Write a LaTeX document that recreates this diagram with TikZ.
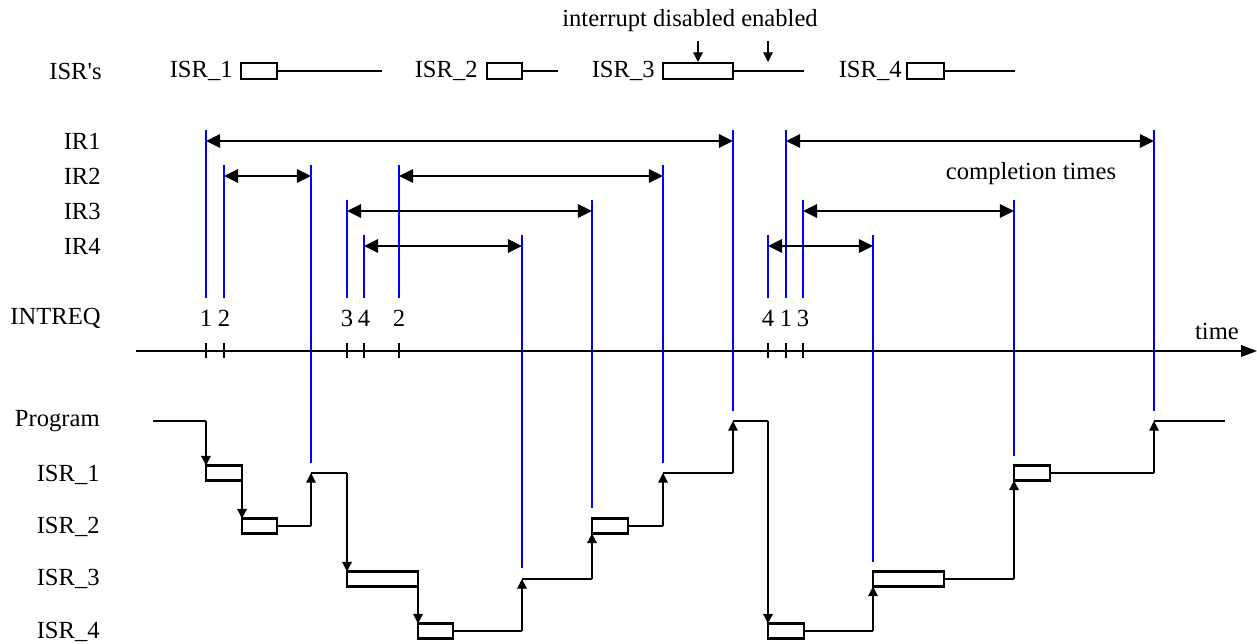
\documentclass[tikz,border=0pt]{standalone}
\usepackage{fontspec}
\setmainfont{Liberation Serif}
\usetikzlibrary{arrows.meta}

\tikzset{
  lbl/.style={inner sep=0pt, font=\fontsize{14}{16}\selectfont},
  rowlbl/.style={lbl, anchor=east},
  level/.style={line width=1.5pt},
  runbox/.style={draw, line width=1.5pt, fill=white},
  hop/.style={-{Triangle[length=5.5pt,width=5.5pt]}, line width=0.7pt},
  span/.style={{Triangle[length=8pt,width=7.5pt]}-{Triangle[length=8pt,width=7.5pt]}, line width=1.3pt},
  req/.style={blue, line width=0.6pt},
  tick/.style={line width=1pt}
}

\begin{document}
\begin{tikzpicture}[x=0.02cm,y=-0.02cm]
  \useasboundingbox (0,0) rectangle (1257,644);

  % etichette a sinistra
  \node[rowlbl] (isrs) at (102,71) {ISR\textquotesingle s};
  \node[rowlbl] (ir1) at (101,141) {IR1};
  \node[rowlbl] (ir2) at (101,176) {IR2};
  \node[rowlbl] (ir3) at (101,211) {IR3};
  \node[rowlbl] (ir4) at (101,246) {IR4};
  \node[rowlbl] (intreq) at (101,318) {INTREQ};
  \node[rowlbl] (prog) at (100,421) {Program};
  \node[rowlbl] (lv1) at (100,475) {ISR\_1};
  \node[rowlbl] (lv2) at (100,527) {ISR\_2};
  \node[rowlbl] (lv3) at (100,579) {ISR\_3};
  \node[rowlbl] (lv4) at (100,632) {ISR\_4};

  % riga delle ISR
  \foreach \n/\t/\a/\b/\c in {1/233/241/277/382, 2/478/487/522/558,
                             3/655/663/733/804, 4/902/907/944/1015}{
    \node[rowlbl] (top\n) at (\t,71) {ISR\_\n};
    \draw[level] (\b,71) -- (\c,71);
    \draw[runbox] (\a,63) rectangle (\b,79);
  }
  \node[lbl, anchor=base] (note) at (690,27) {interrupt disabled enabled};
  \draw[hop] (698,41) -- (698,62);
  \draw[hop] (768,41) -- (768,62);

  % linee di richiesta e completamento
  \foreach \x/\ya/\yb in {206/130/298, 224/165/298, 311/165/463, 347/200/298,
                          364/235/298, 399/165/298, 522/235/568, 592/200/508,
                          663/165/463, 733/130/411, 768/235/298, 786/130/298,
                          803/200/298, 873/235/562, 1014/200/456, 1154/130/411}
    \draw[req] (\x,\ya) -- (\x,\yb);

  % intervalli di servizio
  \foreach \y/\xa/\xb in {141/206/733, 141/786/1154, 176/224/311, 176/399/663,
                          211/347/592, 211/803/1014, 246/364/522, 246/768/873}
    \draw[span] (\xa,\y) -- (\xb,\y);
  \node[lbl] (compl) at (1031,174) {completion times};

  % asse dei tempi
  \draw[line width=1pt, -{Triangle[length=9pt,width=6.5pt]}] (136,351) -- (1257,351);
  \node[lbl] (time) at (1217,331) {time};
  \foreach \x/\k in {206/1, 224/2, 347/3, 364/4, 399/2, 768/4, 786/1, 803/3}{
    \draw[tick] (\x,343) -- (\x,358);
    \node[lbl] at (\x,318) {\k};
  }

  % esecuzione del programma
  \draw[level] (153,421) -- (206,421);
  \draw[hop] (206,421) -- (206,465.5);
  \draw[runbox] (206,465.5) rectangle (242,480.5);
  \draw[hop] (242,480.5) -- (242,518.5);
  \draw[runbox] (242,518.5) rectangle (277,533.5);
  \draw[level] (277,526) -- (311,526);
  \draw[hop] (311,526) -- (311,473);
  \draw[level] (311,473) -- (347,473);
  \draw[hop] (347,473) -- (347,571.5);
  \draw[runbox] (347,571.5) rectangle (418,586.5);
  \draw[hop] (418,586.5) -- (418,623.5);
  \draw[runbox] (418,623.5) rectangle (453,638.5);
  \draw[level] (453,631) -- (522,631);
  \draw[hop] (522,631) -- (522,579);
  \draw[level] (522,579) -- (592,579);
  \draw[hop] (592,579) -- (592,533.5);
  \draw[runbox] (592,518.5) rectangle (628,533.5);
  \draw[level] (628,526) -- (663,526);
  \draw[hop] (663,526) -- (663,473);
  \draw[level] (663,473) -- (733,473);
  \draw[hop] (733,473) -- (733,421);
  \draw[level] (733,421) -- (768,421);
  \draw[hop] (768,421) -- (768,623.5);
  \draw[runbox] (768,623.5) rectangle (804,638.5);
  \draw[level] (804,631) -- (873,631);
  \draw[hop] (873,631) -- (873,586.5);
  \draw[runbox] (873,571.5) rectangle (944,586.5);
  \draw[level] (944,579) -- (1014,579);
  \draw[hop] (1014,579) -- (1014,480.5);
  \draw[runbox] (1014,465.5) rectangle (1050,480.5);
  \draw[level] (1050,473) -- (1154,473);
  \draw[hop] (1154,473) -- (1154,421);
  \draw[level] (1154,421) -- (1225,421);
\end{tikzpicture}
\end{document}
